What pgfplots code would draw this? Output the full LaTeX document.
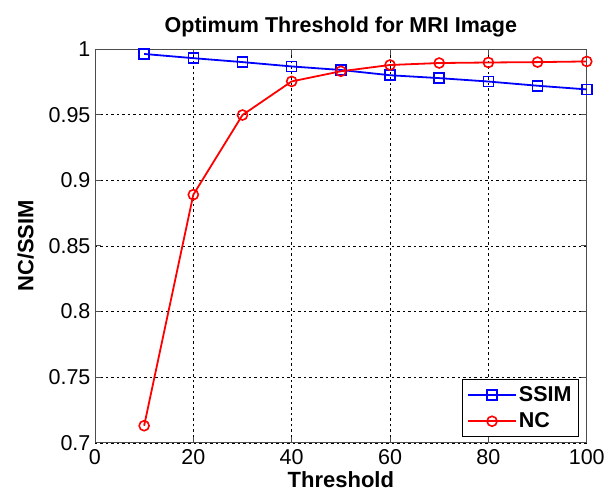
\documentclass[border=0pt]{standalone}
\usepackage{pgfplots}
\pgfplotsset{compat=1.18}
\usepackage{fontspec}
\setmainfont{Liberation Sans}
\begin{document}
\begin{tikzpicture}[x=1pt,y=1pt]
\begin{axis}[
  scale only axis,
  width=492pt, height=394pt,
  at={(0pt,0pt)}, anchor=south west,
  xmin=0, xmax=100, ymin=0.7, ymax=1,
  xtick={0,20,...,100},
  ytick={0.7,0.75,...,1.0},
  yticklabels={0.7,0.75,0.8,0.85,0.9,0.95,1},
  tick align=inside,
  tick pos=both,
  major tick length=6pt,
  grid=major,
  grid style={black, dash pattern=on 2.5pt off 3pt, line width=0.6pt},
  axis line style={black!70, line width=0.8pt},
  tick style={black!70, line width=0.8pt},
  /pgf/number format/assume math mode=true,
  ticklabel style={font=\fontsize{21.5}{23}\selectfont},
  xticklabel style={yshift=-3pt},
  yticklabel style={xshift=-1pt},
  title={\textbf{Optimum Threshold for MRI Image}},
  title style={font=\fontsize{21.5}{23}\selectfont, yshift=2pt},
  xlabel={\textbf{Threshold}},
  ylabel={\textbf{NC/SSIM}},
  xlabel style={font=\fontsize{22}{24}\selectfont, yshift=0pt},
  ylabel style={font=\fontsize{22}{24}\selectfont, yshift=8pt},
  legend style={font=\bfseries\fontsize{21.5}{23}\selectfont, draw=black, line width=0.8pt, at={(0.984,0.015)}, anchor=south east, inner xsep=5pt, inner ysep=5pt, row sep=6pt},
  legend image code/.code={\draw[#1] (0pt,0pt) -- (48pt,0pt); \draw[#1, mark repeat=2, mark phase=2] plot coordinates {(0pt,0pt) (24pt,0pt) (48pt,0pt)};},
  legend cell align=left,
]
\addplot[blue, line width=1.8pt, mark=square, mark size=5pt, mark options={line width=1.6pt}] coordinates {
(10,0.9962) (20,0.9930) (30,0.9900) (40,0.9867) (50,0.9840) (60,0.9800) (70,0.9778) (80,0.9752) (90,0.9720) (100,0.9692)};
\addlegendentry{SSIM}
\addplot[red, line width=1.8pt, mark=o, mark size=5pt, mark options={line width=1.6pt}] coordinates {
(10,0.7130) (20,0.8890) (30,0.9497) (40,0.9753) (50,0.9830) (60,0.9878) (70,0.9893) (80,0.9897) (90,0.9900) (100,0.9905)};
\addlegendentry{NC}
\end{axis}
\path[use as bounding box] (-95pt,-55pt) rectangle (513pt,443pt);
\end{tikzpicture}
\end{document}
